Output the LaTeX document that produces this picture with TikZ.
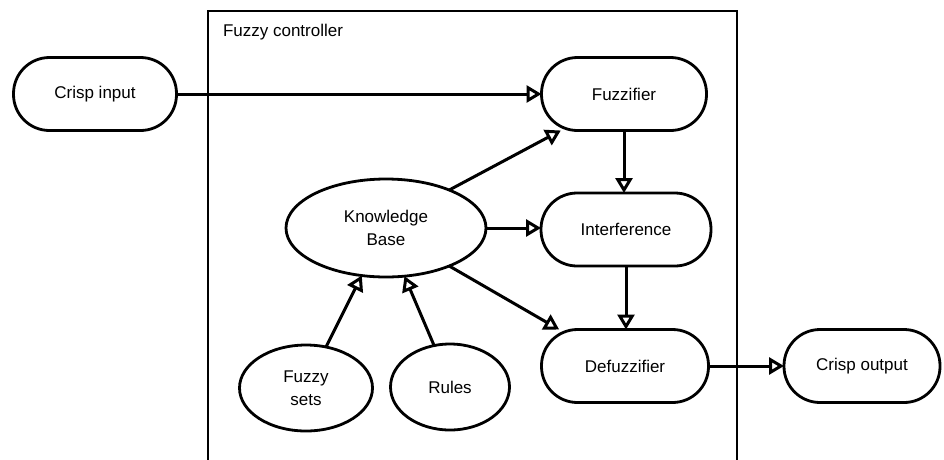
\documentclass[tikz,border=0pt]{standalone}
\usepackage{fontspec}
\setmainfont{Liberation Sans}
\usetikzlibrary{arrows.meta,shapes.geometric}
\begin{document}
\begin{tikzpicture}[x=1pt,y=-1pt,
  every node/.style={font=\fontsize{17}{24}\selectfont, align=center, inner sep=0pt, outer sep=0pt},
  term/.style={draw, line width=2.8pt, rounded corners=36pt, minimum height=73pt},
  oval/.style={draw, ellipse, line width=2.8pt},
  conn/.style={draw, line width=3pt, -{Triangle[open, length=15pt, width=17pt, line width=3pt]}},
  frame/.style={line width=1.4pt, draw=black}
]
\useasboundingbox (0,0) rectangle (944,459);
\draw[frame] (208,470) -- (208,11) -- (737,11) -- (737,470);
\node[anchor=west] (title) at (223,32) {Fuzzy controller};

\node[term, minimum width=163pt] (ci) at (95,94) {Crisp input};
\node[term, minimum width=165pt] (fz) at (624,94) {Fuzzifier};
\node[term, minimum width=170pt] (intf) at (626,229.5) {Interference};
\node[term, minimum width=167pt] (dz) at (625,366) {Defuzzifier};
\node[term, minimum width=156pt] (co) at (862,366) {Crisp output};

\node[oval, minimum width=200pt, minimum height=98pt] (kb) at (386,228) {Knowledge\\[-1pt]Base};
\node[oval, minimum width=133pt, minimum height=86pt] (fs) at (306,388) {Fuzzy\\[-1pt]sets};
\node[oval, minimum width=119pt, minimum height=86pt] (ru) at (450,387) {Rules};

\path[conn] (ci.east) -- (ci.east -| fz.west);
\path[conn] (kb.31) -- (fz.210);
\path[conn] (kb.east) -- (kb.east -| intf.west);
\path[conn] (kb.-31) -- (dz.151);
\path[conn] (fz.south) -- (fz.south |- intf.north);
\path[conn] (intf.south) -- (intf.south |- dz.north);
\path[conn] (dz.east) -- (dz.east -| co.west);
\path[conn] (fs.64) -- (kb.-117);
\path[conn] (ru.111) -- (kb.-69);
\end{tikzpicture}
\end{document}
